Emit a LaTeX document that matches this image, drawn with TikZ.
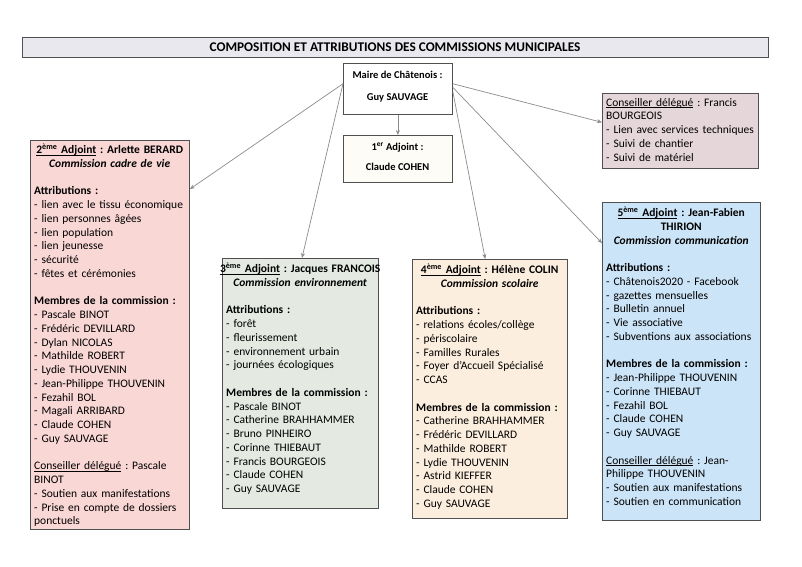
\documentclass[tikz,border=0pt]{standalone}
\usepackage{fontspec}
\setmainfont{Carlito}
\usetikzlibrary{arrows.meta,calc}
\definecolor{boxline}{RGB}{80,80,80}
\definecolor{arrgray}{RGB}{140,140,140}
\definecolor{titlefill}{RGB}{232,232,238}
\definecolor{pinkfill}{RGB}{249,215,213}
\definecolor{greenfill}{RGB}{228,234,226}
\definecolor{peachfill}{RGB}{252,238,222}
\definecolor{bluefill}{RGB}{204,228,247}
\definecolor{mauvefill}{RGB}{229,214,218}
\definecolor{creamfill}{RGB}{253,252,246}
\newcommand\bodyfont{\fontsize{11.5}{13.75}\selectfont\frenchspacing}
\newcommand\mayorfont{\fontsize{10.5}{12}\selectfont\bfseries}
\newcommand\titlefont{\fontsize{13.3}{15}\selectfont\bfseries}
\newlength\headw
\newsavebox\ulbox
\newcommand\ul[1]{\leavevmode\sbox\ulbox{#1}\rlap{\rule[-1.6pt]{\wd\ulbox}{0.6pt}}\usebox\ulbox}
\newcommand\chead[1]{\makebox[\headw][c]{\bfseries #1}}
\newcommand\blankline{\mbox{}\\}
\begin{document}
\begin{tikzpicture}[x=1pt,y=-1pt,
  box/.style={draw=boxline, line width=0.8pt, inner sep=0pt, anchor=north west},
  arr/.style={draw=arrgray, line width=0.7pt, -{Stealth[length=5pt,width=4pt]}},
  txt/.style={inner sep=0pt, anchor=north west, font=\bodyfont, text width=220pt, align=left},
  mtxt/.style={inner sep=0pt, anchor=base, font=\mayorfont}]
\useasboundingbox (0,0) rectangle (802,566);
\fill[white] (0,0) rectangle (802,566);

% title
\node[box, fill=titlefill, minimum width=746pt, minimum height=20pt] (title) at (22,37) {};
\node[inner sep=0pt, anchor=base, font=\titlefont] (titletext) at (395,51.5) {COMPOSITION ET ATTRIBUTIONS DES COMMISSIONS MUNICIPALES};

% mayor and first adjoint
\node[box, fill=white, minimum width=109pt, minimum height=51pt] (mayor) at (343,63) {};
\node[mtxt] (mayor1) at (397.5,78) {Maire de Châtenois :};
\node[mtxt] (mayor2) at (397.5,100) {Guy SAUVAGE};
\node[box, fill=creamfill, minimum width=109pt, minimum height=47pt] (adj1) at (343,135) {};
\node[mtxt] (adj1a) at (397.5,150) {1\textsuperscript{er} Adjoint :};
\node[mtxt] (adj1b) at (397.5,170.5) {Claude COHEN};

% boxes
\node[box, fill=pinkfill, minimum width=159pt, minimum height=389pt] (b2) at (30,140) {};
\node[box, fill=greenfill, minimum width=156pt, minimum height=250pt] (b3) at (222,258) {};
\node[box, fill=peachfill, minimum width=155pt, minimum height=259pt] (b4) at (412,259) {};
\node[box, fill=bluefill, minimum width=158pt, minimum height=318pt] (b5) at (602,202) {};
\node[box, fill=mauvefill, minimum width=156pt, minimum height=75pt] (bc) at (602,93) {};

% texts
\node[txt] (t2) at (34,143.4) {%
\setlength\headw{151pt}%
\strut\chead{\ul{2\textsuperscript{ème} Adjoint} : Arlette BERARD}\\
\chead{\textit{Commission cadre de vie}}\\
\blankline
\textbf{Attributions :}\\
- lien avec le tissu économique\\
- lien personnes âgées\\
- lien population\\
- lien jeunesse\\
- sécurité\\
- fêtes et cérémonies\\
\blankline
\textbf{Membres de la commission :}\\
- Pascale BINOT\\
- Frédéric DEVILLARD\\
- Dylan NICOLAS\\
- Mathilde ROBERT\\
- Lydie THOUVENIN\\
- Jean-Philippe THOUVENIN\\
- Fezahil BOL\\
- Magali ARRIBARD\\
- Claude COHEN\\
- Guy SAUVAGE\\
\blankline
\ul{Conseiller délégué} : Pascale\\
BINOT\\
- Soutien aux manifestations\\
- Prise en compte de dossiers\\
ponctuels};

\node[txt] (t3) at (226,262.4) {%
\setlength\headw{148pt}%
\strut\chead{\ul{3\textsuperscript{ème} Adjoint} : Jacques FRANCOIS}\\
\chead{\textit{Commission environnement}}\\
\blankline
\textbf{Attributions :}\\
- forêt\\
- fleurissement\\
- environnement urbain\\
- journées écologiques\\
\blankline
\textbf{Membres de la commission :}\\
- Pascale BINOT\\
- Catherine BRAHHAMMER\\
- Bruno PINHEIRO\\
- Corinne THIEBAUT\\
- Francis BOURGEOIS\\
- Claude COHEN\\
- Guy SAUVAGE};

\node[txt] (t4) at (416,263.4) {%
\setlength\headw{147pt}%
\strut\chead{\ul{4\textsuperscript{ème} Adjoint} : Hélène COLIN}\\
\chead{\textit{Commission scolaire}}\\
\blankline
\textbf{Attributions :}\\
- relations écoles/collège\\
- périscolaire\\
- Familles Rurales\\
- Foyer d’Accueil Spécialisé\\
- CCAS\\
\blankline
\textbf{Membres de la commission :}\\
- Catherine BRAHHAMMER\\
- Frédéric DEVILLARD\\
- Mathilde ROBERT\\
- Lydie THOUVENIN\\
- Astrid KIEFFER\\
- Claude COHEN\\
- Guy SAUVAGE};

\node[txt] (t5) at (606,206.4) {%
\setlength\headw{150pt}%
\strut\chead{\ul{5\textsuperscript{ème} Adjoint} : Jean-Fabien}\\
\chead{THIRION}\\
\chead{\textit{Commission communication}}\\
\blankline
\textbf{Attributions :}\\
- Châtenois2020 - Facebook\\
- gazettes mensuelles\\
- Bulletin annuel\\
- Vie associative\\
- Subventions aux associations\\
\blankline
\textbf{Membres de la commission :}\\
- Jean-Philippe THOUVENIN\\
- Corinne THIEBAUT\\
- Fezahil BOL\\
- Claude COHEN\\
- Guy SAUVAGE\\
\blankline
\ul{Conseiller délégué} : Jean-\\
Philippe THOUVENIN\\
- Soutien aux manifestations\\
- Soutien en communication};

\node[txt] (tc) at (606,96.4) {%
\strut\ul{Conseiller délégué} : Francis\\
BOURGEOIS\\
- Lien avec services techniques\\
- Suivi de chantier\\
- Suivi de matériel};

% connectors
\coordinate (mW) at ($(mayor.north west)!0.4!(mayor.south west)$);
\coordinate (mE1) at ($(mayor.north east)!0.4!(mayor.south east)$);
\coordinate (mE2) at ($(mayor.north east)!0.47!(mayor.south east)$);
\coordinate (mE3) at ($(mayor.north east)!0.55!(mayor.south east)$);
\draw[arr] (mW) -- ($(b2.north east)!0.126!(b2.south east)$);
\draw[arr] (mW) -- ($(b3.north west)!0.51!(b3.north east)$);
\draw[arr] (mayor.south) -- (adj1.north);
\draw[arr] (mE3) -- ($(b4.north west)!0.47!(b4.north east)$);
\draw[arr] (mE1) -- ($(bc.north west)!0.387!(bc.south west)$);
\draw[arr] (mE2) -- ($(b5.north west)!0.129!(b5.south west)$);
\end{tikzpicture}
\end{document}
